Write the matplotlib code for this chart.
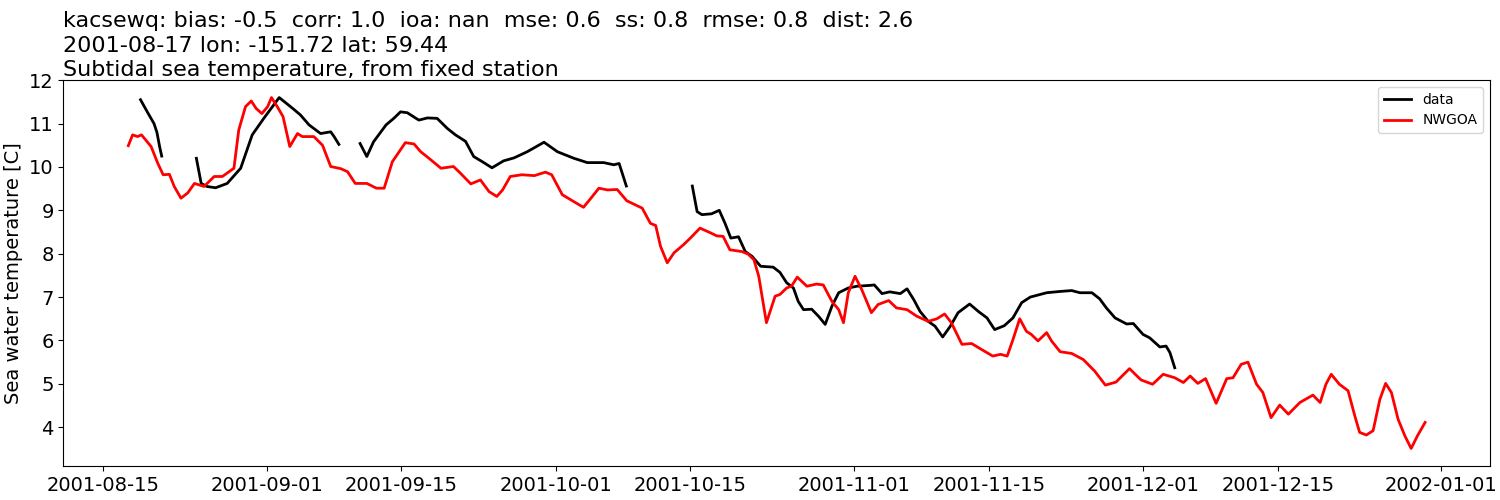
import numpy as np
import pandas as pd
import matplotlib
matplotlib.use('Agg')
import matplotlib.pyplot as plt
import matplotlib.dates as mdates

# days counted from 2001-08-15
start = pd.Timestamp('2001-08-15')

# observed station data (NaN = gap)
obs_days = [3.9, 4.6, 5.3, 5.6, 5.9, 6.1, np.nan,
            9.7, 10.2, 10.8, 11.7, 12.9, 14.3, 15.5, 16.7, 17.6, 18.3, 19.7,
            20.5, 21.4, 22.6, 23.65, 24.0, 24.5, np.nan,
            26.7, 27.4, 28.1, 29.4, 30.2, 30.9, 31.6, 32.8, 33.7, 34.7, 35.75,
            36.6, 37.65, 38.5, 39.4, 40.4, 41.6, 42.7, 44.05, 45.8, 47.2, 48.9,
            50.3, 52.0, 53.05, 53.6, 54.35, np.nan,
            61.2, 61.7, 62.2, 63.2, 64.0, 64.6, 65.2, 66.0, 66.7, 67.4, 68.3,
            69.6, 70.3, 71.0, 71.7, 72.2, 72.75, 73.6, 74.3, 75.0, 75.7, 76.4,
            77.4, 78.3, 79.7, 80.1, 80.9, 81.7, 82.8, 83.5, 84.2, 84.85, 85.7,
            86.4, 87.2, 88.0, 88.8, 90.0, 90.9, 91.8, 92.6, 93.6, 94.5, 95.4,
            96.3, 98.0, 99.4, 100.6, 101.45, 102.7, 103.5, 104.2, 105.1, 106.3,
            107.0, 108.0, 108.7, 109.75, 110.4, 110.8, 111.3]
obs_temp = [11.55, 11.27, 11.0, 10.8, 10.45, 10.25, np.nan,
            10.2, 9.62, 9.55, 9.52, 9.62, 9.97, 10.74, 11.12, 11.39, 11.6, 11.35,
            11.2, 10.97, 10.77, 10.81, 10.7, 10.52, np.nan,
            10.54, 10.24, 10.58, 10.97, 11.12, 11.27, 11.25, 11.08, 11.13, 11.12,
            10.89, 10.74, 10.59, 10.24, 10.12, 9.98, 10.14, 10.21, 10.35, 10.57,
            10.35, 10.2, 10.1, 10.1, 10.05, 10.08, 9.56, np.nan,
            9.56, 8.97, 8.9, 8.92, 9.0, 8.7, 8.36, 8.39, 8.05, 7.94, 7.71,
            7.69, 7.57, 7.33, 7.21, 6.9, 6.71, 6.72, 6.56, 6.37, 6.79, 7.1,
            7.21, 7.25, 7.27, 7.28, 7.08, 7.12, 7.08, 7.19, 6.94, 6.67, 6.44,
            6.33, 6.08, 6.33, 6.64, 6.84, 6.67, 6.52, 6.25, 6.34, 6.52, 6.87,
            7.0, 7.1, 7.13, 7.15, 7.1, 7.1, 6.96, 6.75, 6.52, 6.38,
            6.39, 6.14, 6.06, 5.85, 5.87, 5.72, 5.37]

# NWGOA model
mod_days = [2.63, 3.08, 3.6, 4.0, 5.0, 5.7, 6.25, 6.9, 7.4, 8.1, 8.8, 9.5,
            10.5, 11.55, 12.4, 13.1, 13.6, 14.1, 14.8, 15.4, 15.9, 16.5, 17.1,
            17.5, 18.1, 18.7, 19.4, 20.2, 20.7, 21.9, 22.8, 23.65, 24.7, 25.4,
            26.2, 27.4, 28.4, 29.2, 30.05, 31.4, 32.3, 33.0, 33.85, 35.1, 36.4,
            37.1, 38.2, 39.2, 40.1, 40.9, 41.5, 42.3, 43.5, 44.8, 45.95, 46.6,
            47.7, 48.9, 49.9, 50.6, 51.5, 52.4, 53.4, 54.4, 56.0, 56.85, 57.4,
            57.9, 58.6, 59.3, 60.3, 61.0, 62.0, 63.1, 63.75, 64.4, 65.1, 66.35,
            67.0, 67.6, 68.1, 68.9, 69.8, 70.3, 71.0, 71.5, 72.1, 73.1, 74.1,
            74.8, 75.7, 76.4, 76.9, 77.4, 78.1, 78.8, 79.8, 80.5, 81.6, 82.4,
            83.5, 84.5, 85.7, 86.6, 87.4, 88.1, 89.2, 90.2, 91.1, 92.4, 93.2,
            93.9, 94.5, 95.2, 95.9, 96.4, 97.1, 98.0, 98.5, 99.4, 100.6, 101.8,
            103.0, 104.1, 105.2, 106.6, 107.8, 109.0, 110.1, 111.3, 112.2, 112.9,
            113.7, 114.5, 115.6, 116.7, 117.35, 118.2, 118.9, 119.8, 120.45,
            121.3, 122.2, 123.1, 124.3, 125.65, 126.4, 127.0, 127.55, 128.4,
            129.3, 130.0, 130.5, 131.2, 131.9, 132.6, 133.2, 133.8, 134.5, 135.2,
            135.85, 136.5, 137.3]
mod_temp = [10.49, 10.74, 10.7, 10.74, 10.47, 10.08, 9.82, 9.83, 9.55, 9.28,
            9.4, 9.62, 9.55, 9.78, 9.78, 9.89, 9.97, 10.85, 11.39, 11.52, 11.35,
            11.23, 11.39, 11.6, 11.39, 11.16, 10.47, 10.77, 10.7, 10.7, 10.5,
            10.01, 9.96, 9.89, 9.62, 9.62, 9.51, 9.51, 10.12, 10.56, 10.53,
            10.35, 10.2, 9.97, 10.01, 9.86, 9.61, 9.7, 9.43, 9.32, 9.47, 9.78,
            9.82, 9.8, 9.88, 9.82, 9.36, 9.2, 9.07, 9.26, 9.51, 9.47, 9.48,
            9.22, 9.05, 8.7, 8.65, 8.17, 7.79, 8.02, 8.21, 8.36, 8.59, 8.48,
            8.41, 8.4, 8.09, 8.05, 7.99, 7.86, 7.48, 6.41, 7.02, 7.06, 7.21,
            7.25, 7.46, 7.25, 7.3, 7.28, 6.9, 6.71, 6.41, 7.1, 7.48, 7.17, 6.64,
            6.83, 6.92, 6.75, 6.71, 6.56, 6.44, 6.5, 6.61, 6.41, 5.91, 5.93,
            5.81, 5.64, 5.68, 5.64, 6.02, 6.5, 6.21, 6.14, 5.99, 6.18, 5.99,
            5.74, 5.7, 5.56, 5.29, 4.97, 5.04, 5.35, 5.09, 4.99, 5.22, 5.14,
            5.03, 5.18, 5.01, 5.12, 4.55, 5.12, 5.14, 5.45, 5.5, 4.99, 4.8,
            4.22, 4.51, 4.3, 4.57, 4.74, 4.57, 4.99, 5.22, 4.99, 4.84, 4.26,
            3.88, 3.82, 3.92, 4.64, 5.01, 4.8, 4.18, 3.8, 3.51, 3.8, 4.11]

title_lines = ['kacsewq: bias: -0.5  corr: 1.0  ioa: nan  mse: 0.6  ss: 0.8  rmse: 0.8  dist: 2.6',
               '2001-08-17 lon: -151.72 lat: 59.44',
               'Subtidal sea temperature, from fixed station']

obs_time = start + pd.to_timedelta(obs_days, unit='D')
mod_time = start + pd.to_timedelta(mod_days, unit='D')

fig = plt.figure(figsize=(15, 5), dpi=100)
ax = fig.add_subplot(111)
fig.subplots_adjust(left=0.0423, right=0.9933, top=0.84, bottom=0.068)

ax.plot(obs_time, obs_temp, color='k', lw=2, label='data', solid_joinstyle='round')
ax.plot(mod_time, mod_temp, color='r', lw=2, label='NWGOA', solid_joinstyle='round')

ax.xaxis.set_major_locator(mdates.DayLocator(bymonthday=[1, 15]))
ax.xaxis.set_major_formatter(mdates.DateFormatter('%Y-%m-%d'))
ax.tick_params(labelsize=14)
ax.set_ylabel('Sea water temperature [C]', fontsize=14)
ax.set_title('\n'.join(title_lines), loc='left', fontsize=16,
             linespacing=1.28, pad=2)
ax.legend(loc='upper right')

plt.savefig('out.png', dpi=100)
